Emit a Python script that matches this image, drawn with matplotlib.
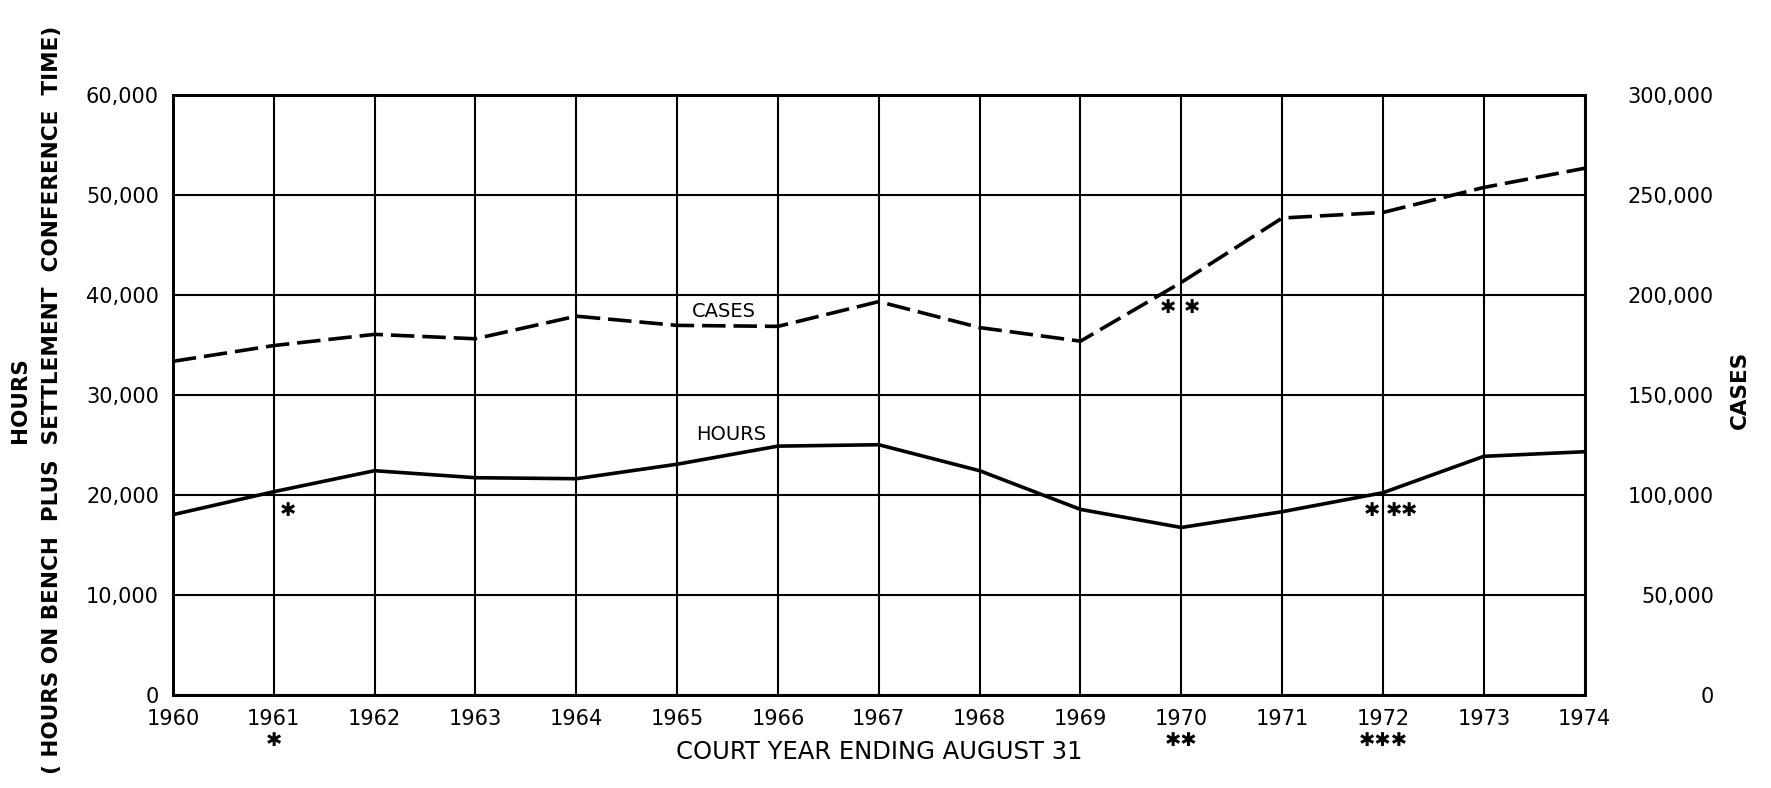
import matplotlib
matplotlib.use("Agg")
import matplotlib.pyplot as plt
from matplotlib.ticker import FuncFormatter

# Court years and the two series.
years = list(range(1960, 1975))
hours = [18000, 20300, 22400, 21700, 21600, 23050, 24860, 25000,
         22400, 18530, 16720, 18300, 20200, 23840, 24300]
cases = [166700, 174600, 180200, 178000, 189300, 184700, 184200, 196600,
         183600, 176800, 206200, 238400, 241200, 253700, 263300]

hours_ticks = list(range(0, 60001, 10000))
cases_ticks = list(range(0, 300001, 50000))

# Footnote stars inside the plot (year position, hours value).
star_x = [1961.14, 1969.87, 1970.11, 1971.89, 1972.11, 1972.26]
star_y = [18460, 38690, 38690, 18460, 18460, 18460]

# Footnote stars under the year labels.
note_years = [1961, 1970, 1972]
note_marks = ["\u2731", "\u2731\u2731", "\u2731\u2731\u2731"]

plt.rcParams['font.family'] = ['DejaVu Sans']

fig = plt.figure(figsize=(17.71, 7.88), dpi=100)
ax = fig.add_axes([0.0976, 0.1185, 0.7972, 0.7611])
ax2 = ax.twinx()

# Hours (solid) on the left axis, cases (dashed) on the right axis.
ax.plot(years, hours, color='black', lw=2.6, solid_joinstyle='miter', zorder=3)
ax2.plot(years, cases, color='black', lw=2.6, dashes=(6.5, 2.2), zorder=3)

ax.set_xlim(1960, 1974)
ax.set_ylim(0, 60000)
ax2.set_ylim(0, 300000)

ax.set_xticks(years)
ax.set_yticks(hours_ticks)
ax2.set_yticks(cases_ticks)

fmt = FuncFormatter(lambda v, p: f"{int(v):,}")
ax.yaxis.set_major_formatter(fmt)
ax2.yaxis.set_major_formatter(fmt)

ax.grid(True, color='black', lw=1.5)
ax.set_axisbelow(True)
for a in (ax, ax2):
    for s in a.spines.values():
        s.set_linewidth(2.0)

ax.tick_params(axis='both', length=0, labelsize=15)
ax.tick_params(axis='x', pad=10)
ax.tick_params(axis='y', pad=10)
ax2.tick_params(axis='y', length=0, labelsize=15, pad=93)
for lbl in ax2.get_yticklabels():
    lbl.set_horizontalalignment('right')

ax.set_xlabel("COURT YEAR ENDING AUGUST 31", fontsize=17.5, labelpad=8)

fig.text(0.0113, 0.492, "HOURS", rotation=90, ha='center', va='center',
         fontsize=15.5, fontweight='bold')
fig.text(0.0294, 0.492, "( HOURS ON BENCH  PLUS  SETTLEMENT  CONFERENCE  TIME)",
         rotation=90, ha='center', va='center', fontsize=15.5, fontweight='bold')
fig.text(0.9825, 0.505, "CASES", rotation=90, ha='center', va='center',
         fontsize=15.5, fontweight='bold')

# Series labels inside the plot.
ax.text(1965.46, 38300, "CASES", ha='center', va='center', fontsize=14)
ax.text(1965.54, 26050, "HOURS", ha='center', va='center', fontsize=14)

for x, y in zip(star_x, star_y):
    ax.text(x, y, "\u2731", ha='center', va='center', fontsize=14)

xt = ax.get_xaxis_transform()
for yr, mark in zip(note_years, note_marks):
    ax.text(yr, -0.076, mark, transform=xt, ha='center', va='center',
            fontsize=14, clip_on=False)

fig.savefig("out.png", dpi=100, facecolor='white')
